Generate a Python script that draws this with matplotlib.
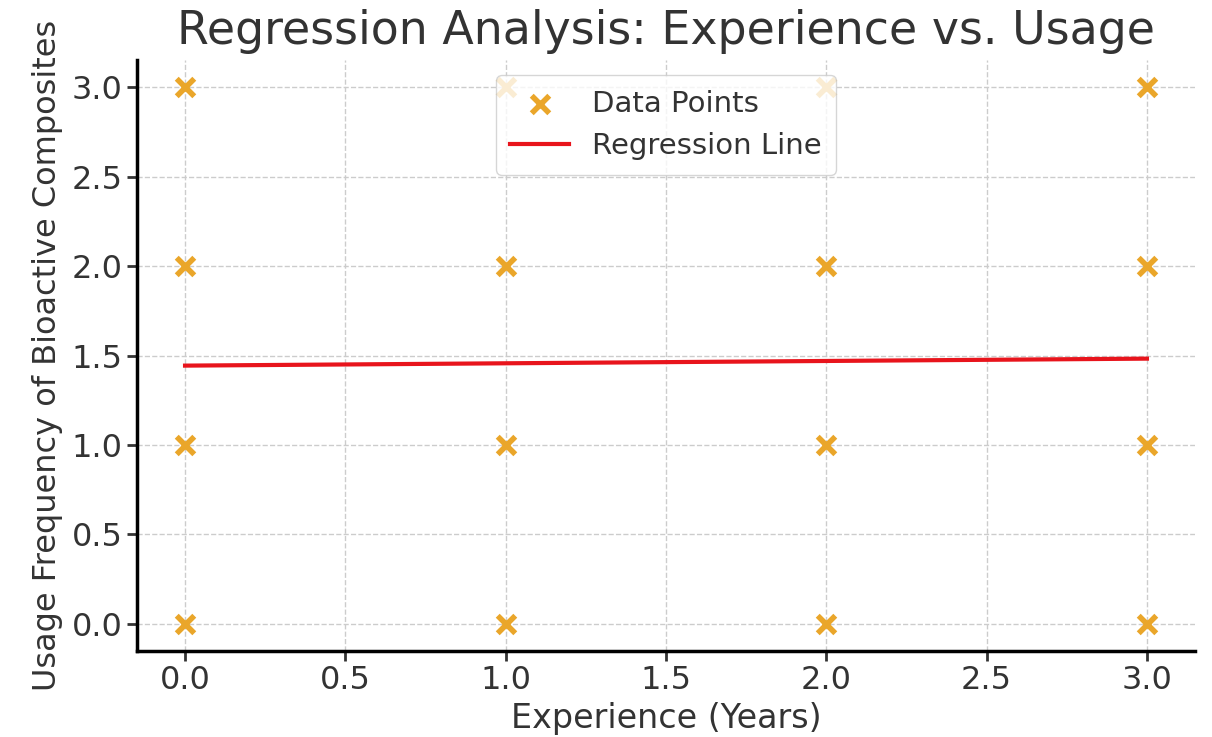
import matplotlib
matplotlib.use("Agg")
import matplotlib.pyplot as plt

# survey answers: years of experience vs usage frequency
experience = [0, 0, 0, 0, 1, 1, 1, 1, 2, 2, 2, 2, 3, 3, 3, 3]
usage = [0, 1, 2, 3, 0, 1, 2, 3, 0, 1, 2, 3, 0, 1, 2, 3]

# fitted line
reg_x = [0, 3]
reg_y = [1.444, 1.483]

xticks = [0.0, 0.5, 1.0, 1.5, 2.0, 2.5, 3.0]
yticks = [0.0, 0.5, 1.0, 1.5, 2.0, 2.5, 3.0]

plt.rcParams['font.family'] = 'DejaVu Sans'
plt.rcParams['text.color'] = '#333333'
plt.rcParams['axes.labelcolor'] = '#333333'
plt.rcParams['xtick.color'] = '#333333'
plt.rcParams['ytick.color'] = '#333333'

fig, ax = plt.subplots(figsize=(12.12, 7.37), dpi=100)
fig.subplots_adjust(left=0.113, right=0.986, top=0.918, bottom=0.117)

ax.scatter(experience, usage, marker='x', s=160, linewidths=4,
           color='#eaa62a', label='Data Points', zorder=3)
ax.plot(reg_x, reg_y, color='#e8141c', linewidth=3, label='Regression Line', zorder=3)

ax.set_xticks(xticks)
ax.set_yticks(yticks)
ax.set_xlim(-0.15, 3.15)
ax.set_ylim(-0.15, 3.15)
ax.tick_params(labelsize=23, width=2, length=7)

ax.set_title('Regression Analysis: Experience vs. Usage', fontsize=33, pad=12)
ax.set_xlabel('Experience (Years)', fontsize=24, labelpad=4)
ax.set_ylabel('Usage Frequency of Bioactive Composites', fontsize=23, labelpad=6)

ax.grid(True, linestyle='--', color='#cccccc', linewidth=1)
ax.spines['top'].set_visible(False)
ax.spines['right'].set_visible(False)
ax.spines['left'].set_linewidth(2.5)
ax.spines['bottom'].set_linewidth(2.5)

ax.legend(loc='upper center', fontsize=21, framealpha=0.8, borderpad=0.5)

fig.savefig('out.png', dpi=100)
